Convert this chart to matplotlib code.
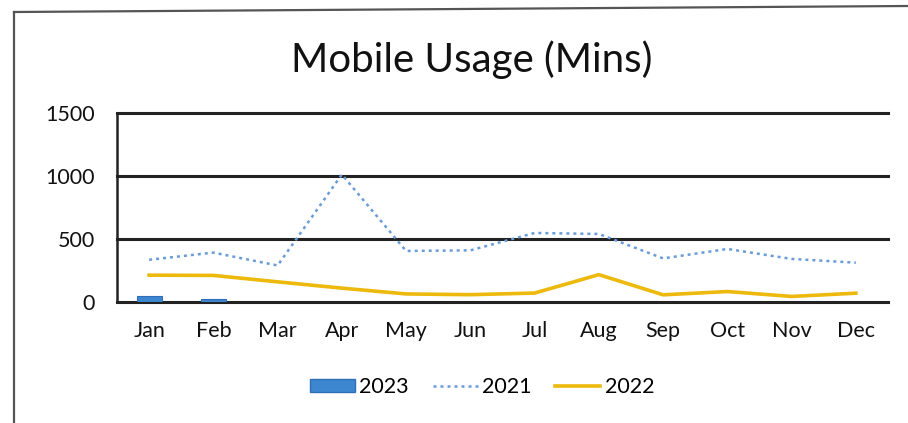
import matplotlib
matplotlib.use("Agg")
import matplotlib.pyplot as plt
from matplotlib.lines import Line2D
from matplotlib.patches import Patch

plt.rcParams['font.family'] = ['Lato', 'DejaVu Sans']

months = ["Jan", "Feb", "Mar", "Apr", "May", "Jun",
          "Jul", "Aug", "Sep", "Oct", "Nov", "Dec"]
usage_2021 = [335, 392, 290, 1012, 405, 410, 548, 540, 346, 421, 342, 312]
usage_2022 = [213, 211, 160, 110, 64, 58, 71, 217, 57, 83, 44, 70]
usage_2023 = [45, 20]
y_ticks = [0, 500, 1000, 1500]

W, H = 908, 423
fig = plt.figure(figsize=(W / 100, H / 100), dpi=100)
fig.patch.set_facecolor("white")

# chart frame (left and top edges)
fig.add_artist(Line2D([14 / W, 14 / W], [0, 1 - 12 / H], color="#555555", lw=1.6))
fig.add_artist(Line2D([14 / W, 1], [1 - 12 / H, 1 - 6 / H], color="#555555", lw=1.6))

left, right, top, bottom = 117, 888, 113, 302
ax = fig.add_axes([left / W, 1 - bottom / H, (right - left) / W, (bottom - top) / H])
x = list(range(len(months)))

ax.bar(x[:len(usage_2023)], usage_2023, width=0.39, color="#3d86d0",
       edgecolor="#2f6fb8", lw=0.8, zorder=3)
ax.plot(x, usage_2021, color="#6a9cd8", lw=1.8, ls=(0, (1.2, 1.6)), zorder=4)
ax.plot(x, usage_2022, color="#ecb90c", lw=2.6, zorder=4)

ax.set_xlim(-0.5, 11.5)
ax.set_ylim(0, 1500)
ax.set_yticks(y_ticks)
ax.set_yticklabels([str(v) for v in y_ticks])
ax.set_xticks(x)
ax.set_xticklabels(months)
ax.tick_params(axis="both", length=0, labelsize=15.5, colors="#111111")
ax.tick_params(axis="y", pad=16)
ax.tick_params(axis="x", pad=14)

for s in ["top", "right"]:
    ax.spines[s].set_visible(False)
ax.spines["left"].set_color("#222222")
ax.spines["left"].set_linewidth(1.8)
ax.spines["bottom"].set_color("#222222")
ax.spines["bottom"].set_linewidth(2.2)
for v in y_ticks[1:]:
    ax.axhline(v, color="#222222", lw=2.2, zorder=2, clip_on=False)

fig.text(472 / W, 1 - 72 / H, "Mobile Usage (Mins)", ha="center",
         va="baseline", fontsize=29, color="#111111")

handles = [Patch(facecolor="#3d86d0", edgecolor="#2f6fb8"),
           Line2D([], [], color="#6a9cd8", lw=1.8, ls=(0, (1.2, 1.6))),
           Line2D([], [], color="#ecb90c", lw=2.6)]
fig.legend(handles, ["2023", "2021", "2022"], loc="center",
           bbox_to_anchor=(482 / W, 1 - 387 / H), ncol=3, frameon=False,
           fontsize=15.5, handlelength=2.1, handleheight=0.6,
           handletextpad=0.2, columnspacing=1.1)

fig.savefig("out.png", dpi=100, facecolor="white")
